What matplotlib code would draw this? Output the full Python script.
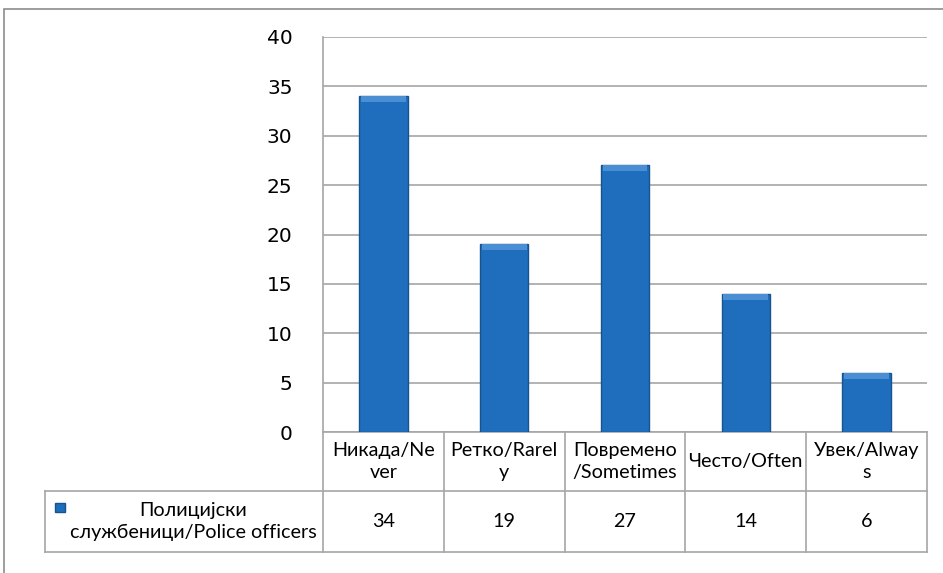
import matplotlib.pyplot as plt
import matplotlib.patches as mpatches

categories = ['Никада/Ne\nver', 'Ретко/Rarel\ny', 'Повремено\n/Sometimes', 'Често/Often', 'Увек/Alway\ns']
values = [34, 19, 27, 14, 6]
series_name = 'Полицијски\nслужбеници/Police officers'
yticks = [0, 5, 10, 15, 20, 25, 30, 35, 40]

W, H = 943, 573
fig = plt.figure(figsize=(W / 100, H / 100), dpi=100)
fig.patch.set_facecolor('white')

# рамка всего графика
fig.patches.append(mpatches.Rectangle((4 / W, -0.05), 1.1, 1 - 9 / H + 0.05,
                                      transform=fig.transFigure, fill=False,
                                      edgecolor='#8c8c8c', linewidth=1.2))

left, right, bottom, top = 323, 927, 432, 37
ax = fig.add_axes([left / W, 1 - bottom / H, (right - left) / W, (bottom - top) / H])

n = len(categories)
x = list(range(n))
ax.bar(x, values, width=0.4, color='#1f6dbd', edgecolor='#17548f', linewidth=1, zorder=3)
# светлая фаска сверху
ax.bar(x, [0.6] * n, bottom=[v - 0.6 for v in values], width=0.37,
       color='#4a8fd4', linewidth=0, zorder=4)
ax.set_xlim(-0.5, n - 0.5)
ax.set_ylim(0, 40)
ax.set_yticks(yticks)
ax.set_yticklabels([str(t) for t in yticks], fontsize=14.5, family='Liberation Sans Narrow')
ax.tick_params(axis='y', length=0, pad=22)
ax.set_xticks([])
ax.grid(axis='y', color='#a6a6a6', linewidth=1.2, zorder=0)
for s in ['top', 'right', 'bottom']:
    ax.spines[s].set_visible(False)
ax.spines['left'].set_color('#a6a6a6')
ax.spines['left'].set_linewidth(1.2)

# таблица данных под осью
lc = '#a6a6a6'
ah = bottom - top
r1 = -(491 - bottom) / ah
r2 = -(552 - bottom) / ah
xl = (45 - left) / (right - left)
kw = dict(transform=ax.transAxes, color=lc, linewidth=1.2, clip_on=False)
ax.plot([0, 1], [0, 0], **kw)
ax.plot([xl, 1], [r1, r1], **kw)
ax.plot([xl, 1], [r2, r2], **kw)
ax.plot([xl, xl], [r1, r2], **kw)
for i in range(n + 1):
    ax.plot([i / n, i / n], [0, r2], **kw)

tf = dict(transform=ax.transAxes, ha='center', va='center', fontsize=14.2,
          family='Lato', color='black', linespacing=1.3)
for i in range(n):
    cx = (i + 0.5) / n
    ax.text(cx, r1 / 2, categories[i], **tf)
    ax.text(cx, (r1 + r2) / 2, str(values[i]), **tf)

ax.text((193 - left) / (right - left), (r1 + r2) / 2, series_name, **tf)
sq = 10 / (right - left)
ax.add_patch(mpatches.Rectangle(((55 - left) / (right - left), -(512 - bottom) / ah),
                                sq, 9 / ah, transform=ax.transAxes,
                                facecolor='#1f6dbd', edgecolor='#17548f', clip_on=False))

fig.savefig('out.png', dpi=100)
